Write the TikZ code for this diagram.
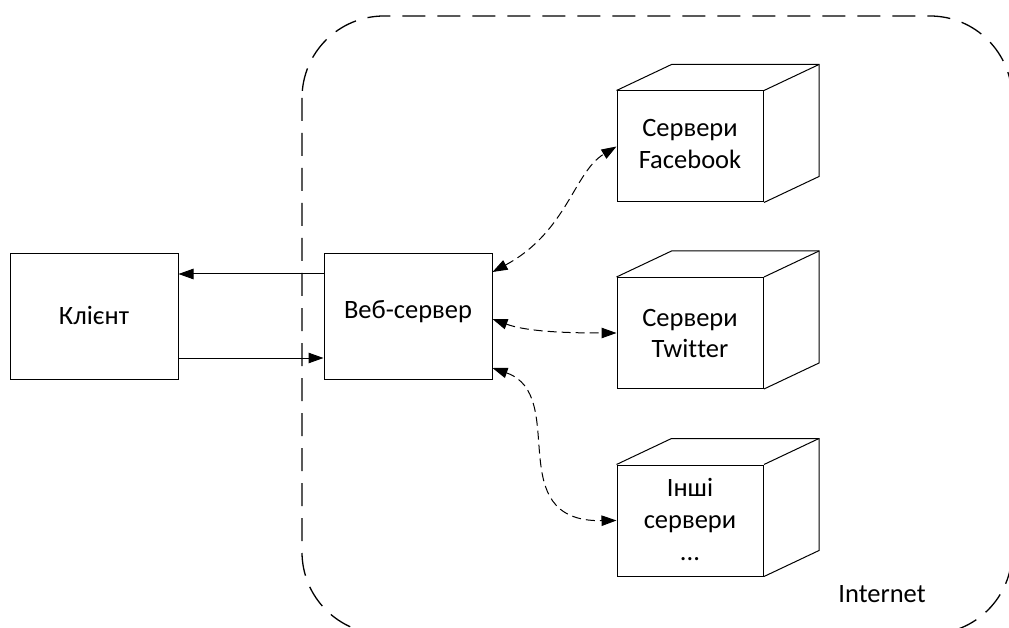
\documentclass[tikz,border=0pt]{standalone}
\usepackage{fontspec}
\setmainfont{Carlito}[Ligatures={NoCommon}]
\usetikzlibrary{arrows.meta}
\begin{document}
\begin{tikzpicture}[x=1pt,y=-1pt,
  every node/.style={font=\fontsize{26.5}{32}\selectfont},
  box/.style={draw, line width=1pt, inner sep=0pt, minimum width=168pt, minimum height=125pt},
  face/.style={draw, line width=1pt, inner sep=0pt, minimum width=146.5pt, minimum height=111pt},
  cubeline/.style={line width=1pt, line join=miter},
  lbl/.style={inner sep=0pt, anchor=base},
  sarrow/.style={line width=1pt, -{Triangle[length=15pt,width=10.5pt]}},
  darrow/.style={line width=1pt, dash pattern=on 9pt off 5pt, {Triangle[length=15pt,width=10.5pt]}-{Triangle[length=15pt,width=10.5pt]}},
  boundary/.style={line width=1.3pt, dash pattern=on 23pt off 12pt, rounded corners=82pt}
]
\useasboundingbox (0,0) rectangle (1009,628);
\clip (0,0) rectangle (1009,628);

% Internet region
\draw[boundary] (302,16) rectangle (1012,634);
\node[lbl] (inet) at (882,602) {Internet};

% Client and web server
\node[box] (client) at (94,316.5) {};
\node[lbl] (clientlbl) at (94,324) {Клієнт};
\node[box] (web) at (408,316.5) {};
\node[lbl] (weblbl) at (408,318) {Веб-сервер};

% Cubes
\node[face] (fb) at (690.25,146.5) {};
\node[face] (tw) at (690.25,333) {};
\node[face] (ot) at (690.25,520.5) {};
\foreach \c in {fb,tw,ot}{
  \draw[cubeline] (\c.north west) -- ++(55,-26) -- ([shift={(55,-26)}]\c.north east)
     -- ([shift={(55,-26)}]\c.south east) -- (\c.south east);
  \draw[cubeline] (\c.north east) -- ++(55,-26);
}
\node[lbl] (fb1) at (690,137) {Сервери};
\node[lbl] (fb2) at (690,169) {Facebook};
\node[lbl] (tw1) at (690,326) {Сервери};
\node[lbl] (tw2) at (690,357) {Twit\kern0pt ter};
\node[lbl] (ot1) at (690,496) {Інші};
\node[lbl] (ot2) at (690,528) {сервери};
\node[lbl] (ot3) at (690,560) {...};

% Solid arrows
\draw[sarrow] ([yshift=42.5pt]web.west) -- ([yshift=42.5pt]client.east);
\draw[sarrow] ([yshift=-41.5pt]client.east) -- ([yshift=-41.5pt]web.west);

% Dashed connectors
\draw[darrow] ([yshift=44.5pt]web.east) .. controls (567,232) and (574,172) .. (fb.west);
\draw[darrow] ([yshift=-2.5pt]web.east) .. controls (525,331) and (560,333) .. (tw.west);
\draw[darrow] ([yshift=-51.5pt]web.east) .. controls (570,395) and (500,522) .. (ot.west);
\end{tikzpicture}
\end{document}
